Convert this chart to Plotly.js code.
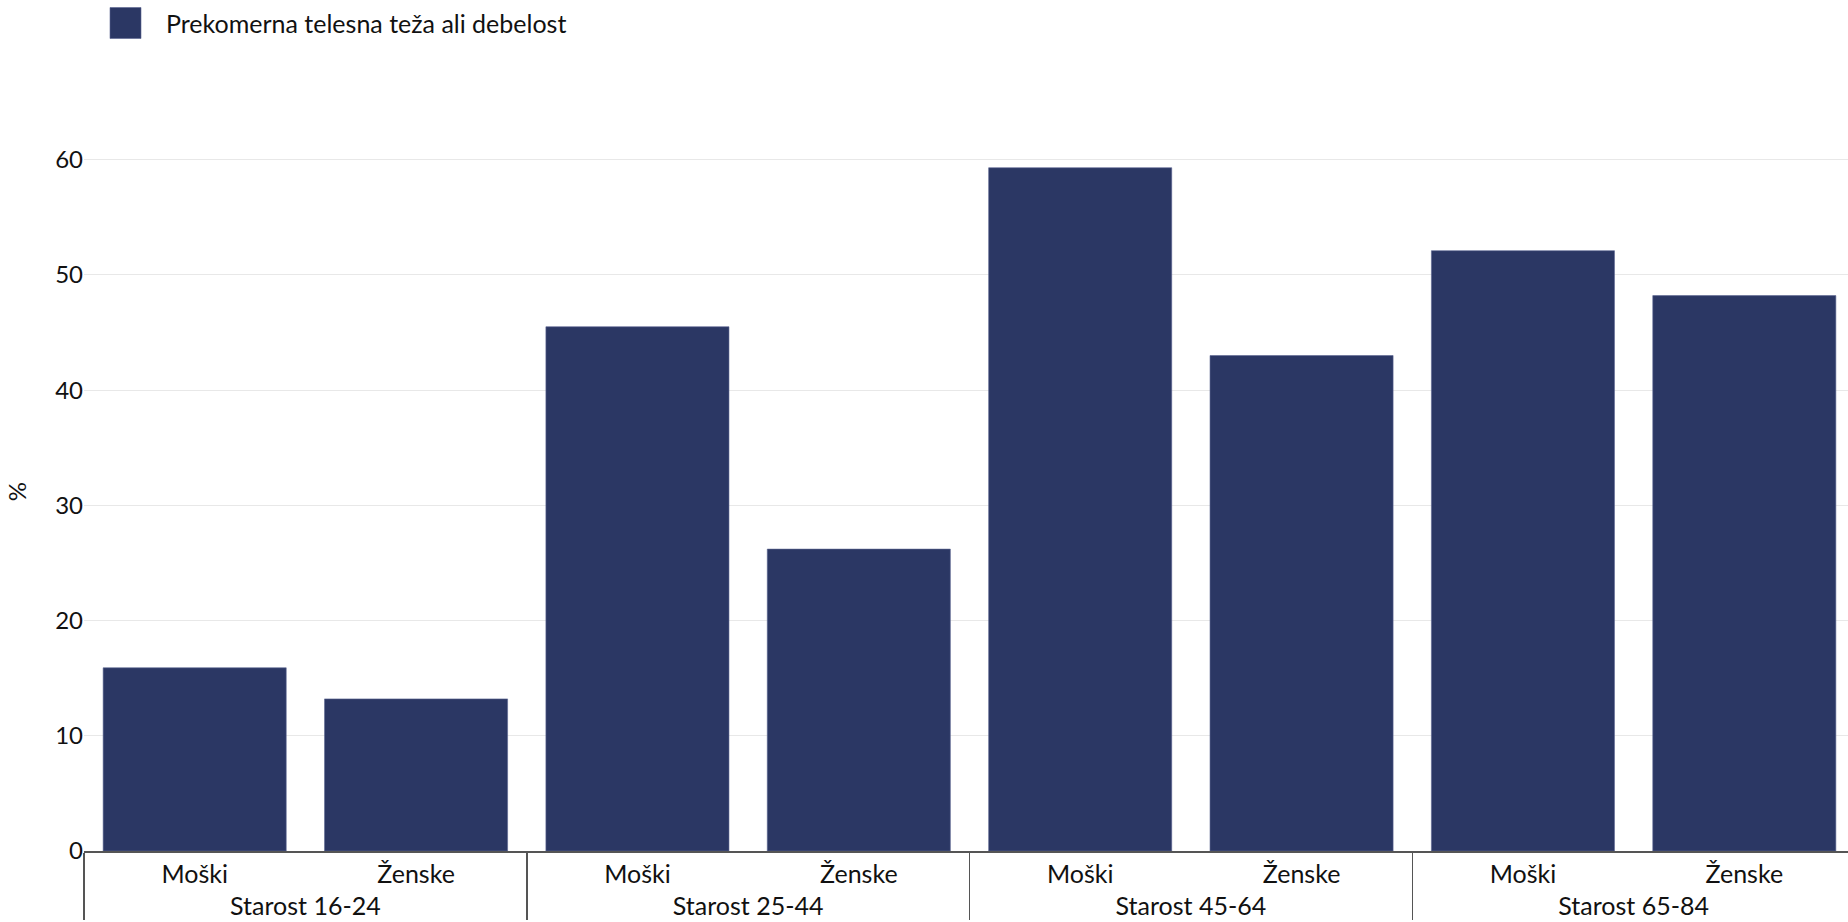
<!DOCTYPE html>
<html>
<head>
<meta charset="utf-8">
<script src="https://cdn.plot.ly/plotly-3.0.1.min.js"></script>
<style>html,body{margin:0;padding:0;background:#fff;overflow:hidden;}#chart{width:1870px;height:922px;}</style>
</head>
<body>
<div id="chart"></div>
<script>
const groups = ["Starost 16-24","Starost 16-24","Starost 25-44","Starost 25-44","Starost 45-64","Starost 45-64","Starost 65-84","Starost 65-84"];
const sexes = ["Moški","Ženske","Moški","Ženske","Moški","Ženske","Moški","Ženske"];
const values = [15.9, 13.2, 45.5, 26.2, 59.3, 43.0, 52.1, 48.2];
const seriesName = "Prekomerna telesna teža ali debelost";
const yTitle = "%";

const trace = {
  type: "bar",
  name: seriesName,
  x: [groups, sexes],
  y: values,
  marker: {color: "#2b3764", line: {color: "#5a6590", width: 0.6}},
  showlegend: true,
  hoverinfo: "y"
};

const layout = {
  width: 1870, height: 922,
  font: {family: "Lato, sans-serif", size: 24, color: "#111"},
  paper_bgcolor: "#fff", plot_bgcolor: "#fff",
  margin: {l: 84, r: 15, t: 132, b: 71, autoexpand: false},
  bargap: 0.173,
  showlegend: true,
  legend: {orientation: "h", xref: "container", yref: "container", x: 126/1870, xanchor: "left", y: 1 - 23/922, yanchor: "middle", font: {size: 25}},
  xaxis: {
    type: "multicategory",
    showline: true, linecolor: "#555", linewidth: 1.5,
    showgrid: false,
    ticks: "",
    tickfont: {size: 25},
    showdividers: true, dividercolor: "#555", dividerwidth: 1.5
  },
  yaxis: {
    title: {text: yTitle, font: {size: 24}, standoff: 21},
    range: [0, 62.4],
    tickvals: [0,10,20,30,40,50,60],
    showgrid: true, gridcolor: "#e8e8e8", gridwidth: 1,
    zeroline: false, showline: false, automargin: false,
    ticks: "", tickfont: {size: 24}
  }
};

Plotly.newPlot("chart", [trace], layout, {displayModeBar: false, staticPlot: true}).then(function(gd){
  const host = gd.getBoundingClientRect();
  gd.querySelectorAll(".legend [clip-path]").forEach(function(el){ el.removeAttribute("clip-path"); });
  gd.querySelectorAll(".legend").forEach(function(el){ el.removeAttribute("clip-path"); });
  gd.querySelectorAll(".legendpoints path").forEach(function(p){
    p.removeAttribute("transform");
    const r = p.getBoundingClientRect();
    const cx = r.left + r.width/2 - host.left;
    const cy = r.top + r.height/2 - host.top;
    const dx = 125.5 - cx, dy = 23 - cy;
    const h = 15.5;
    p.setAttribute("d", "M" + (dx+h) + "," + (dy+h) + "H" + (dx-h) + "V" + (dy-h) + "H" + (dx+h) + "Z");
  });
});
</script>
</body>
</html>
